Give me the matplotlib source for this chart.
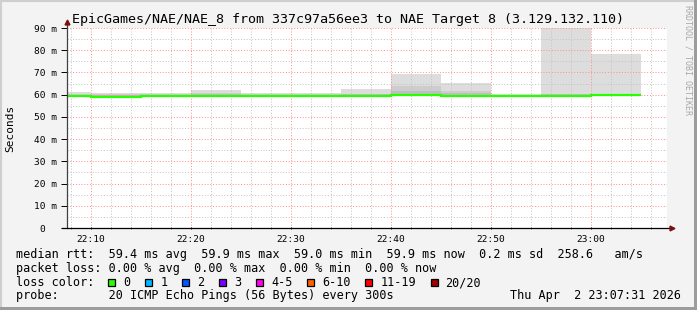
import matplotlib
matplotlib.use('Agg')
import matplotlib.pyplot as plt
from matplotlib.patches import Rectangle
from matplotlib.ticker import MultipleLocator

# 5 minute steps, minutes after 22:00
step_start = [5, 10, 15, 20, 25, 30, 35, 40, 45, 50, 55, 60]
median_rtt = [59.6, 59.0, 59.5, 59.5, 59.4, 59.4, 59.4, 59.9, 59.6, 59.2, 59.3, 59.9]
smoke_min = [59.2, 58.8, 59.1, 59.1, 59.1, 59.1, 59.1, 59.5, 59.2, 58.9, 59.0, 59.5]
smoke_inner = [60.0, 59.8, 60.0, 60.2, 60.0, 60.0, 60.2, 61.8, 60.8, 59.8, 60.2, 60.3]
smoke_mid = [60.3, 60.2, 60.3, 60.6, 60.3, 60.3, 60.5, 63.7, 61.8, 60.0, 60.5, 60.5]
smoke_max = [61.2, 60.6, 60.8, 62.2, 60.8, 60.8, 62.7, 69.1, 65.2, 60.4, 96.0, 78.1]

xtick_pos = [10, 20, 30, 40, 50, 60]
xtick_labels = ['22:10', '22:20', '22:30', '22:40', '22:50', '23:00']

loss_labels = ['0', '1', '2', '3', '4-5', '6-10', '11-19', '20/20']
loss_colors = ['#26ff00', '#00b8ff', '#0059ff', '#7e00ff', '#ff00ea', '#ff5e00', '#ff0000', '#a10000']

title = 'EpicGames/NAE/NAE_8 from 337c97a56ee3 to NAE Target 8 (3.129.132.110)'
line1 = 'median rtt:  59.4 ms avg  59.9 ms max  59.0 ms min  59.9 ms now  0.2 ms sd  258.6   am/s'
line2 = 'packet loss: 0.00 % avg  0.00 % max  0.00 % min  0.00 % now'
line4 = 'probe:       20 ICMP Echo Pings (56 Bytes) every 300s'
stamp = 'Thu Apr  2 23:07:31 2026'

W, H = 697, 310
mono = 'DejaVu Sans Mono'


def fx(x):
    return x / W


def fy(y):
    return 1 - y / H


fig = plt.figure(figsize=(W / 100, H / 100), dpi=100)
fig.patch.set_facecolor('#f3f3f3')

# frame around the image
fig.add_artist(Rectangle((0, 0), 1, 1, transform=fig.transFigure, fill=False,
                         edgecolor='#cfcfcf', linewidth=3))
fig.add_artist(Rectangle((fx(0), fy(H)), 1, fy(H - 3) - fy(H), transform=fig.transFigure,
                         facecolor='#9c9c9c', edgecolor='none'))
fig.add_artist(Rectangle((fx(W - 3), 0), fx(3), 1, transform=fig.transFigure,
                         facecolor='#9c9c9c', edgecolor='none'))

ax = fig.add_axes([fx(67), fy(228), fx(600), fy(28) - fy(228)])
ax.set_facecolor('white')

edges = step_start + [step_start[-1] + 5]
ax.stairs(smoke_max, edges, baseline=smoke_min, fill=True, color='#dddddd', zorder=2)
ax.stairs(smoke_mid, edges, baseline=smoke_min, fill=True, color='#cdcdcd', zorder=2)
ax.stairs(smoke_inner, edges, baseline=smoke_min, fill=True, color='#bebebe', zorder=2)
ax.stairs(median_rtt, edges, baseline=None, color=loss_colors[0], linewidth=1.6, zorder=4)

ax.set_xlim(7.63, 67.63)
ax.set_ylim(0, 90)

ax.xaxis.set_major_locator(MultipleLocator(10))
ax.xaxis.set_minor_locator(MultipleLocator(2))
ax.yaxis.set_major_locator(MultipleLocator(10))
ax.yaxis.set_minor_locator(MultipleLocator(5))
ax.set_axisbelow(False)
ax.grid(which='minor', color='#c4c4c4', linestyle=(0, (1, 1.8)), linewidth=0.72, zorder=5)
ax.grid(which='major', color='#ff9090', linestyle=(0, (1, 1.8)), linewidth=0.72, zorder=5)

ax.set_xticks(xtick_pos)
ax.set_xticklabels(xtick_labels, fontfamily=mono, fontsize=6.8)
yt = list(range(0, 91, 10))
ax.set_yticks(yt)
ax.set_yticklabels(['0  ' if v == 0 else f'{v} m' for v in yt], fontfamily=mono, fontsize=6.8)
ax.tick_params(axis='x', which='major', length=2, pad=4, direction='inout', width=0.7)
ax.tick_params(axis='x', which='minor', length=2, direction='inout', width=0.7, color='#777777')
ax.tick_params(axis='y', which='major', length=4, pad=3, direction='out', width=0.7)
ax.tick_params(axis='y', which='minor', length=0)

for s in ax.spines.values():
    s.set_visible(False)
ax.plot([0, 0], [0, 1.025], transform=ax.transAxes, color='#404040', lw=0.9, clip_on=False, zorder=6)
ax.plot([-0.008, 1.005], [0, 0], transform=ax.transAxes, color='black', lw=0.9, clip_on=False, zorder=6)
ax.plot([0], [1.03], transform=ax.transAxes, marker='^', color='#7a1010', markersize=3.5,
        clip_on=False, zorder=7)
ax.plot([1.008], [0], transform=ax.transAxes, marker='>', color='#7a1010', markersize=3.5,
        clip_on=False, zorder=7)

fig.text(fx(348), fy(19), title, ha='center', va='center', fontfamily=mono, fontsize=9.6)
fig.text(fx(10), fy(128), 'Seconds', rotation=90, ha='center', va='center',
         fontfamily=mono, fontsize=8)
fig.text(fx(688), fy(5), 'RRDTOOL / TOBI OETIKER', rotation=270, ha='center', va='top',
         fontfamily=mono, fontsize=6, color='#a8a8a8')

fig.text(fx(16), fy(258), line1, fontfamily=mono, fontsize=8.5, va='baseline')
fig.text(fx(16), fy(272), line2, fontfamily=mono, fontsize=8.5, va='baseline')
fig.text(fx(16), fy(286), 'loss color:', fontfamily=mono, fontsize=8.5, va='baseline')
fig.text(fx(16), fy(299.5), line4, fontfamily=mono, fontsize=8.5, va='baseline')
fig.text(fx(681), fy(299.5), stamp, fontfamily=mono, fontsize=8.5, va='baseline', ha='right')

x = 108.3
for lab, col in zip(loss_labels, loss_colors):
    fig.add_artist(Rectangle((fx(x), fy(286.3)), fx(7), fy(279) - fy(286.3),
                             transform=fig.transFigure, facecolor=col,
                             edgecolor='black', linewidth=0.9))
    fig.text(fx(x + 15), fy(286), lab, fontfamily=mono, fontsize=8.5, va='baseline')
    x += 7.1 * len(lab) + 29.8

fig.savefig('out.png', dpi=100, facecolor=fig.get_facecolor())
